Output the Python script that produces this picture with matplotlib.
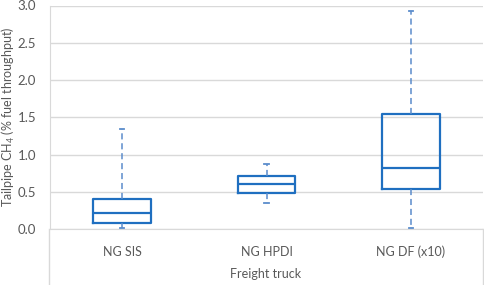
import matplotlib
matplotlib.use("Agg")
import matplotlib.pyplot as plt
from matplotlib.lines import Line2D

categories = ["NG SIS", "NG HPDI", "NG DF (x10)"]
group_label = "Freight truck"
whislo = [0.013, 0.354, 0.02]
q1 = [0.077, 0.48, 0.534]
med = [0.21, 0.61, 0.825]
q3 = [0.40, 0.713, 1.55]
whishi = [1.34, 0.87, 2.92]
yticks = [0.0, 0.5, 1.0, 1.5, 2.0, 2.5, 3.0]

plt.rcParams['font.family'] = ['Lato', 'DejaVu Sans']
plt.rcParams['mathtext.fontset'] = 'custom'
plt.rcParams['mathtext.rm'] = 'Lato'
plt.rcParams['mathtext.it'] = 'Lato:italic'

txt = '#595959'
blue = '#1F6FC0'
wblue = '#5B8CCB'
grid = '#D9D9D9'

fig = plt.figure(figsize=(4.85, 2.85), dpi=100)
ax = fig.add_axes([50/485, 1-229/285, 433/485, (229-5.5)/285])

stats = []
for i, c in enumerate(categories):
    stats.append(dict(label=c, whislo=whislo[i], q1=q1[i], med=med[i], q3=q3[i], whishi=whishi[i], fliers=[]))

ax.bxp(stats, positions=[0, 1, 2], widths=0.4, showfliers=False,
       boxprops=dict(color=blue, linewidth=1.6),
       medianprops=dict(color=blue, linewidth=1.6),
       whiskerprops=dict(color=wblue, linewidth=1.1, linestyle=(0, (4, 2.5))),
       capprops=dict(color=wblue, linewidth=1.3),
       capwidths=0.03, zorder=3)

ax.set_xlim(-0.5, 2.5)
ax.set_ylim(0, 3.0)
ax.set_yticks(yticks)
ax.set_yticklabels([f"{v:.1f}" for v in yticks], color=txt, fontsize=9.5)
ax.yaxis.grid(True, color=grid, linewidth=1)
ax.set_axisbelow(True)
ax.tick_params(axis='y', length=0, pad=10)
ax.tick_params(axis='x', length=0, pad=12, labelsize=9, labelcolor=txt)
ax.set_xticks([0, 1, 2])
ax.set_xticklabels(categories)
for s in ['top', 'right']:
    ax.spines[s].set_visible(False)
ax.spines['left'].set_color(grid)
ax.spines['bottom'].set_color(grid)

fig.text(8.5/485, 1-117/285, "Tailpipe CH$_4$ (% fuel throughput)", rotation=90,
         ha='center', va='center', color=txt, fontsize=9)

fig.add_artist(Line2D([49.5/485, 49.5/485], [0, 1-229/285], color=grid, lw=1, transform=fig.transFigure))
fig.add_artist(Line2D([483/485, 483/485], [0, 1-229/285], color=grid, lw=1, transform=fig.transFigure))
fig.text(266/485, 1-274/285, group_label, ha='center', va='center', color=txt, fontsize=9)

fig.savefig("out.png", dpi=100)
